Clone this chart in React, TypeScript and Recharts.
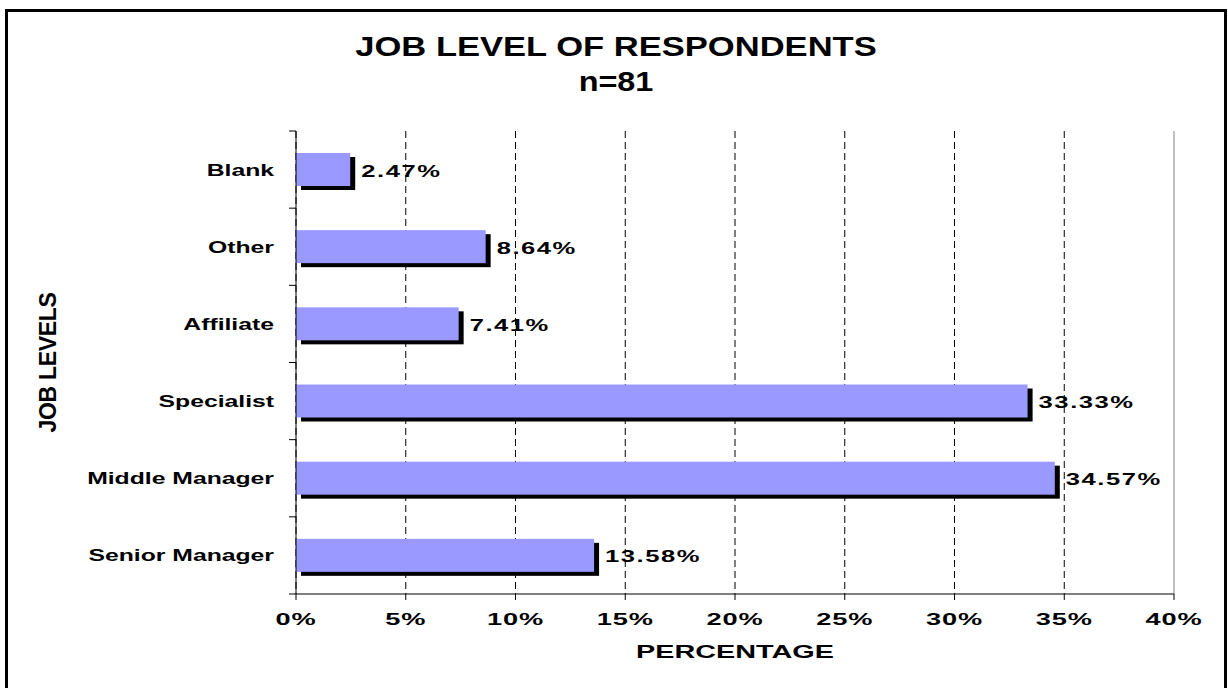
import { BarChart, Bar, XAxis, YAxis, CartesianGrid, ReferenceLine, LabelList, Label } from "recharts"

const levels = ["Blank", "Other", "Affiliate", "Specialist", "Middle Manager", "Senior Manager"]
const percents = [2.47, 8.64, 7.41, 33.33, 34.57, 13.58]
const xTicks = [0, 5, 10, 15, 20, 25, 30, 35, 40]
const X_MAX = 40

const data = levels.map((level, i) => ({ level, value: percents[i] }))

const FONT = "Arial, 'Liberation Sans', Helvetica, sans-serif"

// bar with a black drop shadow offset down/right
function ShadowBar(props: any) {
  const { x, y, width, height } = props
  return (
    <g>
      <rect x={x + 5} y={y + 4} width={width} height={height} fill="#000" />
      <rect x={x} y={y} width={width} height={height} fill="#9999ff" />
    </g>
  )
}

function ValueLabel(props: any) {
  const { x, y, width, height, value } = props
  const tx = x + width + 11
  const ty = y + height / 2 + 7
  return (
    <text
      transform={`translate(${tx},${ty}) scale(1.55,1)`}
      fontFamily={FONT}
      fontWeight="bold"
      fontSize={16.5}
      letterSpacing={1}
      fill="#000"
    >
      {`${Number(value).toFixed(2)}%`}
    </text>
  )
}

function LevelTick(props: any) {
  const { x, y, payload, index } = props
  const half = payload && payload.offset ? payload.offset : 38.6
  const ax = x + 22
  return (
    <g>
      <line x1={ax - 7} x2={ax} y1={y - half} y2={y - half} stroke="#000" />
      {index === levels.length - 1 && <line x1={ax - 7} x2={ax} y1={y + half} y2={y + half} stroke="#000" />}
      <text
        transform={`translate(${x},${y + 6}) scale(1.5,1)`}
        textAnchor="end"
        fontFamily={FONT}
        fontWeight="bold"
        fontSize={16.5}
        fill="#000"
      >
        {payload.value}
      </text>
    </g>
  )
}

function PercentTick(props: any) {
  const { x, y, payload } = props
  return (
    <text
      transform={`translate(${x},${y + 23}) scale(1.6,1)`}
      textAnchor="middle"
      fontFamily={FONT}
      fontWeight="bold"
      fontSize={17}
      letterSpacing={0.5}
      fill="#000"
    >
      {`${payload.value}%`}
    </text>
  )
}

function XTitle(props: any) {
  const vb = props.viewBox || { x: 296, y: 594, width: 878, height: 60 }
  return (
    <text
      transform={`translate(${vb.x + vb.width / 2},${vb.y + 64}) scale(1.6,1)`}
      textAnchor="middle"
      fontFamily={FONT}
      fontWeight="bold"
      fontSize={18}
      fill="#000"
    >
      PERCENTAGE
    </text>
  )
}

function YTitle(props: any) {
  const vb = props.viewBox || { x: 96, y: 131, width: 200, height: 463 }
  return (
    <text
      transform={`translate(${vb.x - 40},${vb.y + vb.height / 2}) rotate(-90)`}
      textAnchor="middle"
      fontFamily={FONT}
      fontWeight="bold"
      fontSize={23}
      letterSpacing={-0.3}
      fill="#000"
    >
      JOB LEVELS
    </text>
  )
}

// dashed gridlines at every tick except the last one (plot edge is drawn solid grey)
const gridX = ({ offset }: any) =>
  xTicks.slice(0, -1).map((v) => offset.left + (offset.width * v) / X_MAX)

export default function App() {
  return (
    <div>
      <div
        style={{
          position: "absolute",
          left: 5,
          top: 9,
          width: 1222,
          height: 679,
          boxSizing: "border-box",
          border: "3px solid #000",
          borderBottom: "none",
          background: "#fff",
        }}
      />
      <div style={{ position: "absolute", left: 0, top: 0, width: 1228, height: 688 }}>
        <BarChart
          width={1228}
          height={688}
          data={data}
          layout="vertical"
          margin={{ top: 131, right: 54, bottom: 34, left: 96 }}
        >
          <CartesianGrid
            horizontal={false}
            stroke="#000"
            strokeDasharray="7 4"
            verticalCoordinatesGenerator={gridX}
          />
          <XAxis
            type="number"
            domain={[0, X_MAX]}
            ticks={xTicks}
            height={60}
            stroke="#000"
            tickSize={6}
            tick={<PercentTick />}
          >
            <Label content={<XTitle />} />
          </XAxis>
          <YAxis
            type="category"
            dataKey="level"
            width={200}
            stroke="#000"
            tickLine={false}
            tickSize={7}
            tickMargin={15}
            tick={<LevelTick />}
          >
            <Label content={<YTitle />} />
          </YAxis>
          <ReferenceLine x={X_MAX} stroke="#808080" />
          <Bar dataKey="value" barSize={33} shape={<ShadowBar />} isAnimationActive={false}>
            <LabelList dataKey="value" content={<ValueLabel />} />
          </Bar>
        </BarChart>
      </div>
      <svg
        width={1228}
        height={110}
        style={{ position: "absolute", left: 0, top: 0, pointerEvents: "none" }}
      >
        <text
          transform="translate(616,56) scale(1.28,1)"
          textAnchor="middle"
          fontFamily={FONT}
          fontWeight="bold"
          fontSize={27}
          fill="#000"
        >
          JOB LEVEL OF RESPONDENTS
        </text>
        <text
          transform="translate(616,90.5) scale(1.2,1)"
          textAnchor="middle"
          fontFamily={FONT}
          fontWeight="bold"
          fontSize={27}
          fill="#000"
        >
          n=81
        </text>
      </svg>
    </div>
  )
}
